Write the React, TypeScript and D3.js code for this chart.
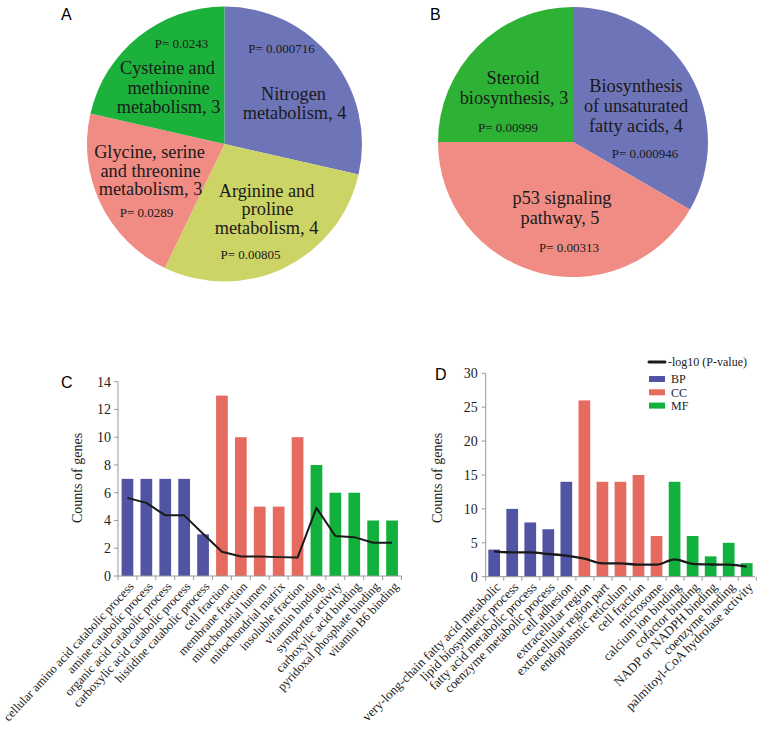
import React from "react";
import * as d3 from "d3";

// ---------- Pie A data ----------
const pieANames: string[][] = [
  ["Nitrogen", "metabolism, 4"],
  ["Arginine and", "proline", "metabolism, 4"],
  ["Glycine, serine", "and threonine", "metabolism, 3"],
  ["Cysteine and", "methionine", "metabolism, 3"],
];
const pieAValues = [4, 4, 3, 3];
const pieAPvals = ["P= 0.000716", "P= 0.00805", "P= 0.0289", "P= 0.0243"];

// ---------- Pie B data ----------
const pieBNames: string[][] = [
  ["Biosynthesis", "of unsaturated", "fatty acids, 4"],
  ["p53 signaling", "pathway, 5"],
  ["Steroid", "biosynthesis, 3"],
];
const pieBValues = [4, 5, 3];
const pieBPvals = ["P= 0.000946", "P= 0.00313", "P= 0.00999"];

// ---------- Bar C data ----------
const cCategories = [
  "cellular amino acid catabolic process",
  "amine catabolic process",
  "organic acid catabolic process",
  "carboxylic acid catabolic process",
  "histidine catabolic process",
  "cell fraction",
  "membrane fraction",
  "mitochondrial lumen",
  "mitochondrial matrix",
  "insoluble fraction",
  "vitamin binding",
  "symporter activity",
  "carboxylic acid binding",
  "pyridoxal phosphate binding",
  "vitamin B6 binding",
];
const cGroups = ["BP", "BP", "BP", "BP", "BP", "CC", "CC", "CC", "CC", "CC", "MF", "MF", "MF", "MF", "MF"];
const cCounts = [7, 7, 7, 7, 3, 13, 10, 5, 5, 10, 8, 6, 6, 4, 4];
const cLogP = [5.63, 5.27, 4.37, 4.37, 3.05, 1.75, 1.4, 1.4, 1.36, 1.33, 4.91, 2.88, 2.8, 2.4, 2.4];
const cTicks = [0, 2, 4, 6, 8, 10, 12, 14];

// ---------- Bar D data ----------
const dCategories = [
  "very-long-chain fatty acid metabolic",
  "lipid biosynthetic process",
  "fatty acid metabolic process",
  "coenzyme metabolic process",
  "cell adhesion",
  "extracellular region",
  "extracellular region part",
  "endoplasmic reticulum",
  "cell fraction",
  "microsome",
  "calcium ion binding",
  "cofactor binding",
  "NADP or NADPH binding",
  "coenzyme binding",
  "palmitoyl-CoA hydrolase activity",
];
const dGroups = ["BP", "BP", "BP", "BP", "BP", "CC", "CC", "CC", "CC", "CC", "MF", "MF", "MF", "MF", "MF"];
const dCounts = [4, 10, 8, 7, 14, 26, 14, 14, 15, 6, 14, 6, 3, 5, 2];
const dLogP = [3.75, 3.6, 3.6, 3.35, 3.1, 2.66, 1.97, 1.97, 1.78, 1.78, 2.57, 1.9, 1.8, 1.77, 1.47];
const dTicks = [0, 5, 10, 15, 20, 25, 30];

const legendItems = ["BP", "CC", "MF"];
const legendLineLabel = "-log10 (P-value)";

// ---------- styles ----------
const pieAColors = ["#6e74b8", "#ccd465", "#f08c84", "#1cb13b"];
const pieBColors = ["#6e74b8", "#f08c84", "#2db236"];
const groupColors: Record<string, string> = { BP: "#5054a2", CC: "#e56a60", MF: "#12b03c" };
const SERIF = "'Liberation Serif', 'Times New Roman', serif";
const SANS = "'Liberation Sans', Arial, sans-serif";

// label layout offsets relative to pie centre
const pieALayout = [
  { name: [[69, -50], [70, -31]], p: [57, -96] },
  { name: [[42, 47], [43, 65], [42, 84]], p: [26, 110] },
  { name: [[-75, 8], [-74, 27], [-74, 45]], p: [-78, 68] },
  { name: [[-57, -76], [-56, -56], [-56, -37]], p: [-43, -101] },
];
const pieBLayout = [
  { name: [[63, -56], [63, -36], [63, -16]], p: [72, 11] },
  { name: [[-11, 56], [-13, 76]], p: [-4, 105] },
  { name: [[-60, -64], [-59, -44]], p: [-65, -15] },
];

function Pie({ cx, cy, r, values, colors, names, pvals, layout }: any) {
  const pie = d3.pie<number>().sort(null).value((d) => d)(values);
  const arc = d3.arc<any>().innerRadius(0).outerRadius(r);
  return (
    <g transform={`translate(${cx},${cy})`}>
      {pie.map((p, i) => (
        <path key={i} d={arc(p) as string} fill={colors[i]} />
      ))}
      {names.map((lines: string[], i: number) => (
        <g key={"t" + i}>
          {lines.map((ln, j) => (
            <text
              key={j}
              x={layout[i].name[j][0]}
              y={layout[i].name[j][1]}
              dy="0.35em"
              textAnchor="middle"
              fontFamily={SERIF}
              fontSize={18.3}
              fill="#1a1a1a"
            >
              {ln}
            </text>
          ))}
          <text
            x={layout[i].p[0]}
            y={layout[i].p[1]}
            dy="0.35em"
            textAnchor="middle"
            fontFamily={SERIF}
            fontSize={13}
            fill="#1a1a1a"
          >
            {pvals[i]}
          </text>
        </g>
      ))}
    </g>
  );
}

function BarChart({ x0, x1, y0, y1, cats, groups, counts, logp, ticks, yMax, padIn, padOut, curve, lineW, labelW, rot, labelFont }: any) {
  const x = d3.scaleBand<string>().domain(cats).range([x0, x1]).paddingInner(padIn).paddingOuter(padOut);
  const y = d3.scaleLinear().domain([0, yMax]).range([y0, y1]);
  const line = d3
    .line<number>()
    .x((_, i) => (x(cats[i]) as number) + x.bandwidth() / 2)
    .y((d) => y(d))
    .curve(curve);
  const step = x.step();
  const bounds = d3.range(cats.length + 1).map((i) => x0 + i * step);
  return (
    <g>
      {cats.map((c: string, i: number) => (
        <rect
          key={c}
          x={x(c)}
          y={y(counts[i])}
          width={x.bandwidth()}
          height={y0 - y(counts[i])}
          fill={groupColors[groups[i]]}
        />
      ))}
      <path d={line(logp) as string} fill="none" stroke="#1a1a1a" strokeWidth={lineW} strokeLinejoin="round" />
      {/* y axis */}
      <line x1={x0} x2={x0} y1={y0} y2={y(yMax)} stroke="#999" strokeWidth={1} />
      {ticks.map((t: number) => (
        <g key={t}>
          <line x1={x0 - 4} x2={x0} y1={y(t)} y2={y(t)} stroke="#999" />
          <text x={x0 - labelW} y={y(t)} dy="0.35em" textAnchor="end" fontFamily={SERIF} fontSize={14} fill="#222">
            {t}
          </text>
        </g>
      ))}
      {/* x axis */}
      <line x1={x0} x2={x1} y1={y0} y2={y0} stroke="#999" strokeWidth={1} />
      {bounds.map((b: number, i: number) => (
        <line key={i} x1={b} x2={b} y1={y0} y2={y0 + 4} stroke="#999" />
      ))}
      {cats.map((c: string) => {
        const cx = (x(c) as number) + x.bandwidth() / 2;
        return (
          <text
            key={"l" + c}
            transform={`translate(${cx + 4},${y0 + 8}) rotate(${rot})`}
            dy="0.35em"
            textAnchor="end"
            fontFamily={SERIF}
            fontSize={labelFont}
            fill="#222"
          >
            {c}
          </text>
        );
      })}
    </g>
  );
}

export default function App() {
  return (
    <div style={{ position: "absolute", left: 0, top: 0 }}>
      <svg width={762} height={732} style={{ display: "block", background: "#fff" }}>
        <rect width={762} height={732} fill="#fff" />
        {/* Panel letters */}
        <text x={61} y={20} fontFamily={SANS} fontSize={16} fill="#000">A</text>
        <text x={430} y={20} fontFamily={SANS} fontSize={16} fill="#000">B</text>
        <text x={61} y={388} fontFamily={SANS} fontSize={16} fill="#000">C</text>
        <text x={435} y={380} fontFamily={SANS} fontSize={16} fill="#000">D</text>

        <Pie cx={224.5} cy={144} r={137.5} values={pieAValues} colors={pieAColors} names={pieANames} pvals={pieAPvals} layout={pieALayout} />
        <Pie cx={573} cy={142} r={135} values={pieBValues} colors={pieBColors} names={pieBNames} pvals={pieBPvals} layout={pieBLayout} />

        {/* Chart C */}
        <BarChart x0={118} x1={401.5} y0={576} y1={381.7} cats={cCategories} groups={cGroups} counts={cCounts} logp={cLogP} ticks={cTicks} yMax={14} padIn={0.38} padOut={0.19} curve={d3.curveLinear} lineW={2} labelW={7} rot={-47} labelFont={12.5} />
        <text transform="translate(77,478) rotate(-90)" textAnchor="middle" dy="0.35em" fontFamily={SERIF} fontSize={14} fill="#222">Counts of genes</text>

        {/* Chart D */}
        <BarChart x0={485.7} x1={755.2} y0={576.7} y1={373.3} cats={dCategories} groups={dGroups} counts={dCounts} logp={dLogP} ticks={dTicks} yMax={30} padIn={0.35} padOut={0.145} curve={d3.curveMonotoneX} lineW={2.3} labelW={8} rot={-45} labelFont={13} />
        <text transform="translate(437,478) rotate(-90)" textAnchor="middle" dy="0.35em" fontFamily={SERIF} fontSize={14} fill="#222">Counts of genes</text>

        {/* Legend D */}
        <g>
          <line x1={649} x2={665} y1={362} y2={362} stroke="#1a1a1a" strokeWidth={3} strokeLinecap="round" />
          <text x={668} y={362} dy="0.35em" fontFamily={SERIF} fontSize={12} fill="#222">{legendLineLabel}</text>
          {legendItems.map((g, i) => (
            <g key={g}>
              <rect x={649} y={376 + i * 13.3} width={16} height={6} fill={groupColors[g]} />
              <text x={671} y={379 + i * 13.3} dy="0.35em" fontFamily={SERIF} fontSize={12} fill="#222">{g}</text>
            </g>
          ))}
        </g>
      </svg>
    </div>
  );
}
